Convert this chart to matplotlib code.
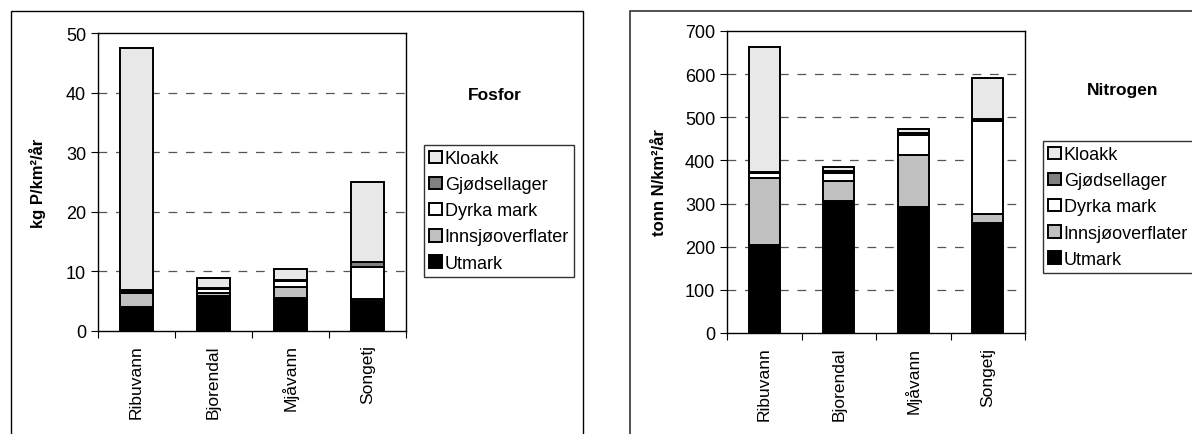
import numpy as np
import matplotlib
matplotlib.use('Agg')
from matplotlib import pyplot as plt
from matplotlib.patches import Rectangle

plt.rcParams['font.family'] = ['Liberation Sans', 'DejaVu Sans']

cats = ['Ribuvann', 'Bjorendal', 'Mjåvann', 'Songetj']
series = ['Utmark', 'Innsjøoverflater', 'Dyrka mark', 'Gjødsellager', 'Kloakk']
colors = ['#000000', '#c0c0c0', '#ffffff', '#808080', '#e8e8e8']

# fosfor, kg P/km2/aar
utmark_p = [4.0, 5.9, 5.6, 5.1]
innsjo_p = [2.3, 0.5, 1.7, 0.2]
dyrka_p = [0.3, 0.6, 1.1, 5.4]
gjodsel_p = [0.2, 0.2, 0.2, 0.8]
kloakk_p = [40.6, 1.7, 1.8, 13.5]

# nitrogen, tonn N/km2/aar
utmark_n = [205, 305, 292, 254]
innsjo_n = [154, 47, 121, 21]
dyrka_n = [11, 19, 46, 217]
gjodsel_n = [4, 4, 4, 3]
kloakk_n = [288, 10, 9, 95]

W, H = 1192, 435
fig = plt.figure(figsize=(W / 100, H / 100), dpi=100)

# panel frames
fig.patches.append(Rectangle((11 / W, -0.1), (583 - 11) / W, 1.1 - 12 / H,
                             transform=fig.transFigure, fill=False,
                             edgecolor='black', linewidth=1.0))
fig.patches.append(Rectangle((630 / W, -0.1), (1300 - 630) / W, 1.1 - 12 / H,
                             transform=fig.transFigure, fill=False,
                             edgecolor='#333333', linewidth=1.2))


def draw(rect, data, ymax, ystep, ylabel, title, title_xy, leg_xy, label_x):
    ax = fig.add_axes(rect)
    x = np.arange(len(cats))
    bottom = np.zeros(len(cats))
    handles = []
    for name, vals, c in zip(series, data, colors):
        b = ax.bar(x, vals, 0.42, bottom=bottom, color=c, edgecolor='black',
                   linewidth=1.4, label=name, zorder=3)
        handles.append(b)
        bottom += np.array(vals)
    ax.set_xlim(-0.5, len(cats) - 0.5)
    ax.set_ylim(0, ymax)
    ax.set_yticks(np.arange(0, ymax + ystep / 2, ystep))
    ax.tick_params(axis='y', labelsize=13, length=5, direction='out')
    for v in np.arange(ystep, ymax, ystep):
        ax.axhline(v, color='#555555', linestyle=(0, (7, 7)), linewidth=0.9, zorder=1)
    ax.set_xticks(np.arange(-0.5, len(cats), 1.0))
    ax.set_xticklabels([])
    ax.tick_params(axis='x', length=5, direction='out')
    for i, name in enumerate(cats):
        ax.text(i, -0.045, name, rotation=90, ha='center', va='top', fontsize=12.5,
                transform=ax.get_xaxis_transform())
    for s in ax.spines.values():
        s.set_linewidth(1.0)
    fig.text(label_x, (rect[1] + rect[1] + rect[3]) / 2, ylabel, rotation=90,
             ha='center', va='center', fontsize=12, fontweight='bold')
    fig.text(title_xy[0], title_xy[1], title, ha='center', va='center',
             fontsize=12.5, fontweight='bold')
    leg = fig.legend(handles[::-1], series[::-1], loc='upper left',
                     bbox_to_anchor=leg_xy, bbox_transform=fig.transFigure,
                     fontsize=13, frameon=True, fancybox=False, shadow=False,
                     handlelength=0.7, handleheight=0.7, handletextpad=0.15,
                     borderpad=0.3, labelspacing=0.5, borderaxespad=0)
    leg.get_frame().set_edgecolor('black')
    leg.get_frame().set_linewidth(1.0)
    return ax


draw([98 / W, (H - 332) / H, (406 - 98) / W, (332 - 34) / H],
     [utmark_p, innsjo_p, dyrka_p, gjodsel_p, kloakk_p], 50, 10,
     'kg P/km²/år', 'Fosfor', (495 / W, (H - 96) / H),
     (424 / W, (H - 146) / H), 38 / W)

draw([727 / W, (H - 334) / H, (1025 - 727) / W, (334 - 32) / H],
     [utmark_n, innsjo_n, dyrka_n, gjodsel_n, kloakk_n], 700, 100,
     'tonn N/km²/år', 'Nitrogen', (1123 / W, (H - 90) / H),
     (1043 / W, (H - 142) / H), 660 / W)

fig.savefig('out.png', dpi=100)
